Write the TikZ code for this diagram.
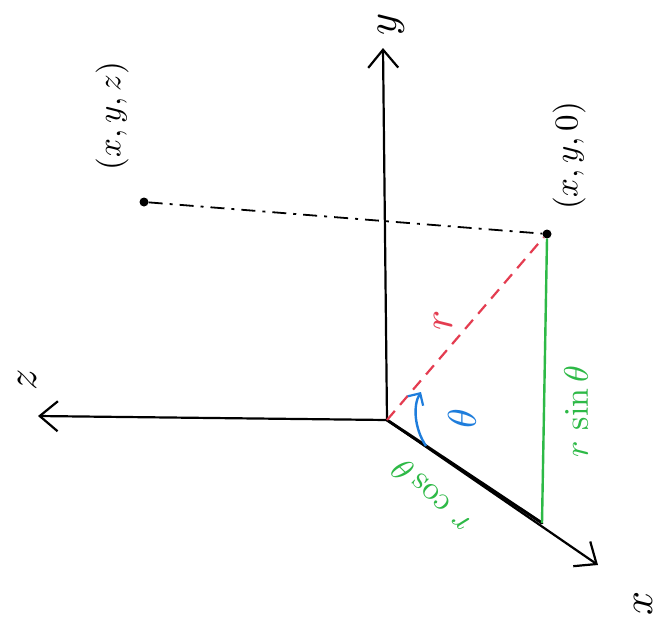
\documentclass[tikz,border=0pt]{standalone}
\usepackage{graphicx}
\usetikzlibrary{arrows.meta}
\definecolor{penred}{RGB}{228,60,80}
\definecolor{pengreen}{RGB}{45,185,70}
\definecolor{penblue}{RGB}{30,125,220}
\newcommand{\handtxt}[2][3.3]{\scalebox{#1}{#2}}
\begin{document}
\begin{tikzpicture}[x=1pt,y=-1pt,
  axis/.style={line width=2.2pt,black,-{Straight Barb[length=18pt,width=30pt,line width=2.2pt]}},
  lbl/.style={inner sep=0pt},
  pt/.style={circle,fill=black,inner sep=0pt,minimum size=9pt}]
\useasboundingbox[fill=white] (0,0) rectangle (661,619);
% key points
\coordinate (O) at (387,420);
\coordinate (Ytip) at (383,48);
\coordinate (Ztip) at (38,416);
\coordinate (Xtip) at (598,565);
\coordinate (F) at (542,523);
\node[pt] (P) at (547,234) {};
\node[pt] (Q) at (144,202) {};
\coordinate (A0) at (426,446);
\coordinate (A1) at (421,392);
% axes
\draw[axis] (O) -- (Ytip);
\draw[axis] (O) -- (Ztip);
\draw[axis] (O) -- (Xtip);
\draw[line width=3pt,line cap=round] (O) -- (F);
% lines
\draw[line width=2.4pt,pengreen] (F) -- (P.south);
\draw[line width=2.2pt,penred,dash pattern=on 12pt off 8pt] (O) -- (P.south west);
\draw[line width=1.8pt,black,dash pattern=on 14pt off 7pt on 3pt off 7pt] (Q) -- (P);
\draw[line width=2.4pt,penblue,-{Straight Barb[length=9pt,width=18pt,line width=2.2pt]}] (A0) .. controls (414,428) and (413,405) .. (A1);
% labels
\node[lbl,rotate=90] (ylbl) at (391,24) {\handtxt[4.2]{$y$}};
\node[lbl,rotate=90] (zlbl) at (27,380) {\handtxt[4.2]{$z$}};
\node[lbl,rotate=90] (xlbl) at (643,603) {\handtxt[4.2]{$x$}};
\node[lbl,rotate=90] (qlbl) at (112,116) {\handtxt{$(x,y,z)$}};
\node[lbl,rotate=90] (plbl) at (569,156) {\handtxt{$(x,y,0)$}};
\node[lbl,rotate=90,text=penred] (rlbl) at (443,320) {\handtxt[4.2]{$r$}};
\node[lbl,rotate=90,text=penblue] (tlbl) at (462,419) {\handtxt[4]{$\theta$}};
\node[lbl,rotate=90,text=pengreen] (slbl) at (576,412) {\handtxt[3.4]{$r\,\sin\theta$}};
\node[lbl,rotate=136,text=pengreen] (clbl) at (430,497) {\handtxt[3.3]{$r\,\cos\theta$}};
\end{tikzpicture}
\end{document}
